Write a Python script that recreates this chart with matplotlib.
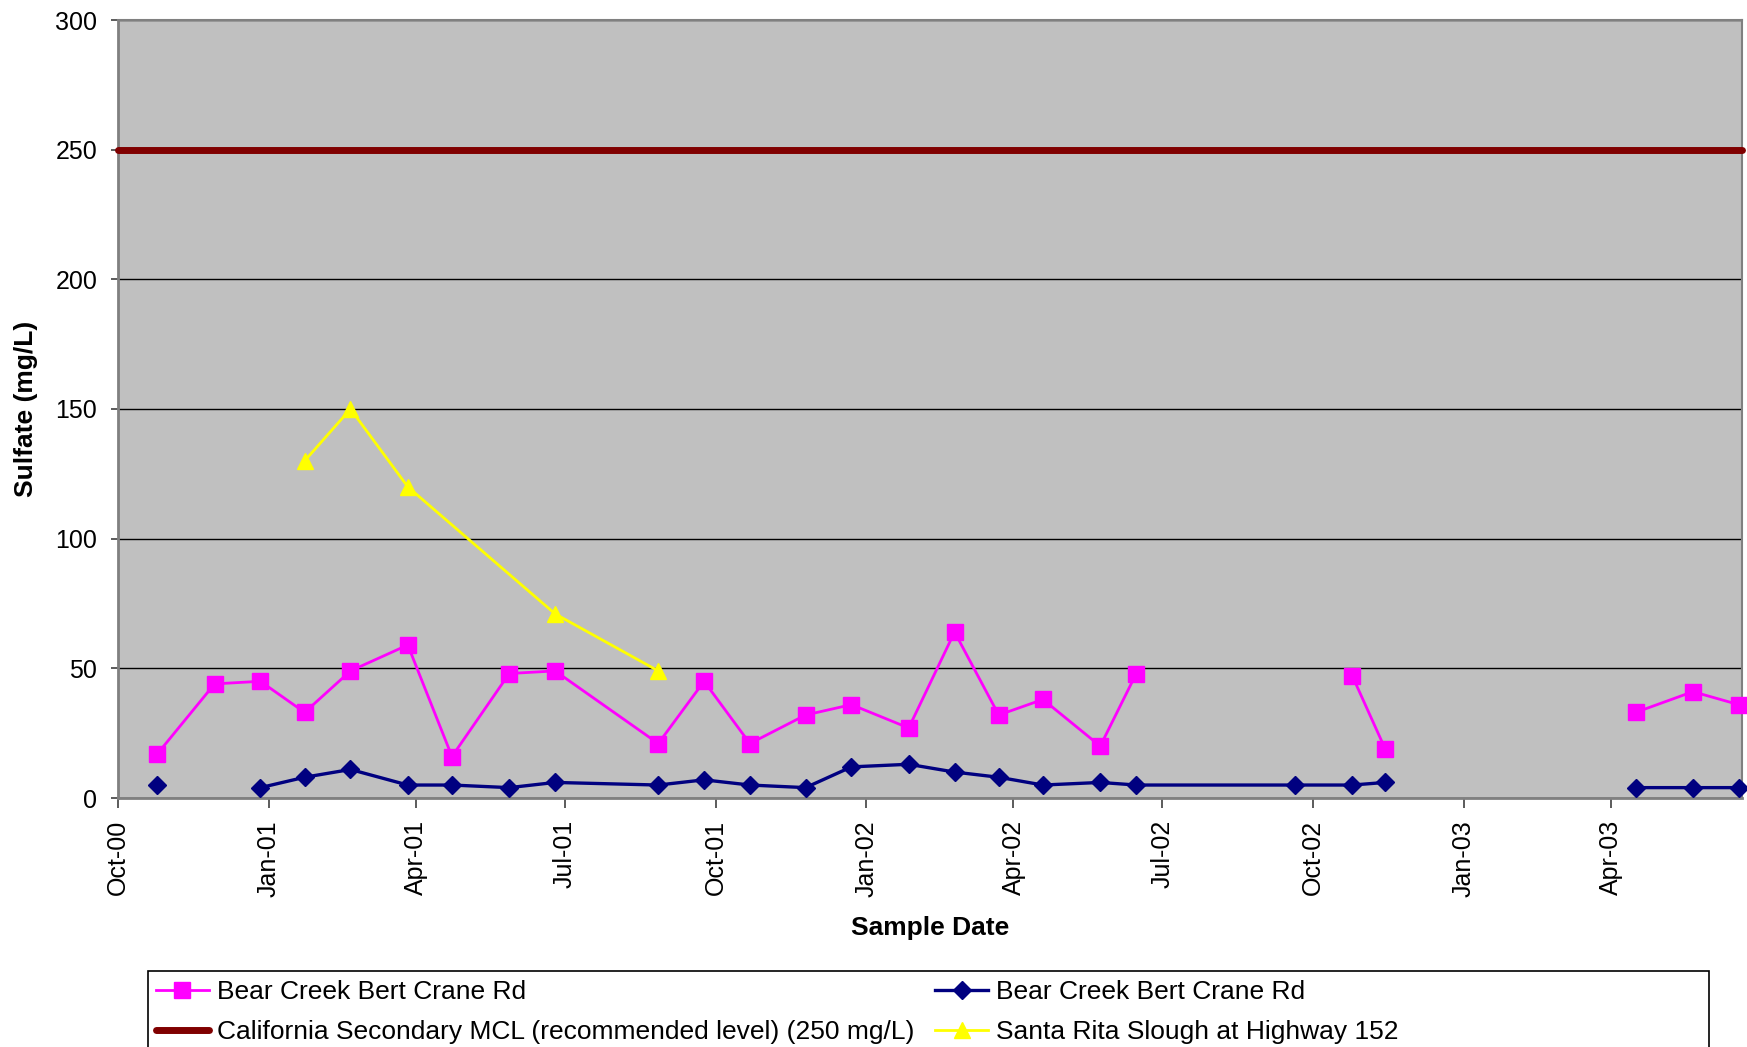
import numpy as np
import pandas as pd
import matplotlib
matplotlib.use('agg')
import matplotlib.pyplot as plt
import matplotlib.dates as mdates
from matplotlib.patches import Rectangle
from matplotlib.lines import Line2D

plt.rcParams['font.family'] = ['Liberation Sans', 'DejaVu Sans']

# sample dates shared by the two Bear Creek series (NaN = no sample / gap)
sample_dates = pd.to_datetime([
    '2000-10-25', '2000-11-29', '2000-12-27', '2001-01-23', '2001-02-20',
    '2001-03-27', '2001-04-23', '2001-05-28', '2001-06-25', '2001-08-27',
    '2001-09-24', '2001-10-22', '2001-11-25', '2001-12-23', '2002-01-27',
    '2002-02-24', '2002-03-23', '2002-04-19', '2002-05-24', '2002-06-15',
    '2002-09-20', '2002-10-25', '2002-11-14', '2003-01-15', '2003-04-16',
    '2003-05-21', '2003-06-18'])
pink_values = [17, 44, 45, 33, 49, 59, 16, 48, 49, 21, 45, 21, 32, 36, 27,
               64, 32, 38, 20, 48, np.nan, 47, 19, np.nan, 33, 41, 36]
blue_values = [5, np.nan, 4, 8, 11, 5, 5, 4, 6, 5, 7, 5, 4, 12, 13,
               10, 8, 5, 6, 5, 5, 5, 6, np.nan, 4, 4, 4]

slough_dates = pd.to_datetime(['2001-01-23', '2001-02-20', '2001-03-27',
                               '2001-06-25', '2001-08-27'])
slough_values = [130, 150, 120, 71, 49]

mcl_dates = pd.to_datetime(['2000-10-01', '2003-06-20'])
mcl_values = [250, 250]

quarter_ticks = pd.date_range('2000-10-01', '2003-04-01', freq='QS')

W, H = 1747, 1047
fig = plt.figure(figsize=(W / 100, H / 100), dpi=100)
ax = fig.add_axes([118 / W, 1 - 798 / H, (1742 - 118) / W, (798 - 20) / H])
ax.set_facecolor('#C0C0C0')
ax.set_axisbelow(True)
ax.yaxis.grid(True, color='black', lw=1)

ax.plot(mcl_dates, mcl_values, color='#800000', lw=5,
        solid_capstyle='round', clip_on=False, zorder=3)
ax.plot(sample_dates, pink_values, color='#FF00FF', lw=2, marker='s',
        ms=11.5, mec='#FF00FF', mfc='#FF00FF', clip_on=False, zorder=4)
ax.plot(sample_dates, blue_values, color='#000080', lw=2.4, marker='D',
        ms=9.5, mec='#000080', mfc='#000080', clip_on=False, zorder=5)
ax.plot(slough_dates, slough_values, color='#FFFF00', lw=2, marker='^',
        ms=11.5, mec='#FFFF00', mfc='#FFFF00', clip_on=False, zorder=4)

ax.set_xlim(mcl_dates[0], mcl_dates[1])
ax.set_ylim(0, 300)
ax.set_yticks(range(0, 301, 50))
ax.set_xticks(quarter_ticks)
ax.xaxis.set_major_formatter(mdates.DateFormatter('%b-%y'))
ax.tick_params(axis='x', direction='out', length=7, width=1.2,
               color='#404040', pad=9, labelsize=18, labelrotation=90)
ax.tick_params(axis='y', direction='out', length=5, width=1.2,
               color='#404040', pad=10, labelsize=18)

for side in ['left', 'bottom']:
    ax.spines[side].set_color('#808080')
    ax.spines[side].set_linewidth(2)
for side in ['top', 'right']:
    ax.spines[side].set_color('#808080')
    ax.spines[side].set_linewidth(1.5)

ax.set_xlabel('Sample Date', fontsize=19, fontweight='bold', labelpad=14)
ax.set_ylabel('Sulfate (mg/L)', fontsize=19, fontweight='bold', labelpad=12)

# legend
handles = [
    Line2D([], [], color='#FF00FF', lw=2, marker='s', ms=11.5, mec='#FF00FF'),
    Line2D([], [], color='#800000', lw=5, solid_capstyle='round'),
    Line2D([], [], color='#000080', lw=2.4, marker='D', ms=9.5, mec='#000080'),
    Line2D([], [], color='#FFFF00', lw=2, marker='^', ms=11.5, mec='#FFFF00'),
]
labels = ['Bear Creek Bert Crane Rd',
          'California Secondary MCL (recommended level) (250 mg/L)',
          'Bear Creek Bert Crane Rd',
          'Santa Rita Slough at Highway 152']
fig.legend(handles, labels, loc='upper left', ncol=2, frameon=False,
           bbox_to_anchor=(156 / W, 1 - 980 / H), borderpad=0,
           fontsize=19, handlelength=2.0, handletextpad=0.3,
           columnspacing=0.8, labelspacing=0.6, borderaxespad=0)
fig.patches.append(Rectangle((148 / W, -0.05), (1709 - 148) / W,
                             (1 - 970.5 / H) + 0.05, transform=fig.transFigure,
                             fill=False, edgecolor='black', lw=1.2))

fig.savefig('out.png', dpi=100)
